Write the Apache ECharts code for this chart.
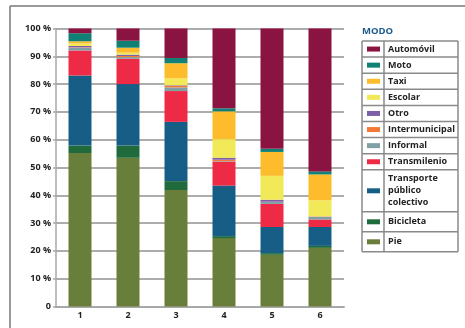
<!DOCTYPE html>
<html>
<head>
<meta charset="utf-8">
<script src="https://cdn.jsdelivr.net/npm/echarts@6/dist/echarts.min.js"></script>
<style>
  html, body { margin: 0; padding: 0; background: #fff; }
  #chart { width: 465px; height: 328px; }
</style>
</head>
<body>
<div id="chart"></div>
<script>
var categories = ['1', '2', '3', '4', '5', '6'];
var yTicks = [0, 10, 20, 30, 40, 50, 60, 70, 80, 90, 100];

// porcentaje por modo (de abajo hacia arriba en la barra)
var pie = [55.2, 53.5, 41.9, 24.6, 18.6, 21.1];
var bicicleta = [2.7, 4.4, 3.2, 0.7, 0.6, 0.7];
var tpc = [25.2, 22.1, 21.3, 18.2, 9.4, 6.8];
var transmilenio = [9.0, 9.1, 11.1, 8.6, 8.3, 2.7];
var informal = [1.0, 0.6, 1.3, 0.2, 0.7, 0.9];
var intermunicipal = [0.15, 0.4, 0.6, 0.5, 0.1, 0.1];
var otro = [0.45, 0.5, 0.2, 0.7, 0.7, 0.1];
var escolar = [0.9, 0.7, 2.5, 6.7, 8.6, 5.8];
var taxi = [0.8, 1.8, 5.4, 10.0, 8.6, 9.3];
var moto = [2.9, 2.5, 1.9, 1.1, 1.1, 1.1];
var automovil = [1.7, 4.4, 10.6, 28.7, 43.3, 51.4];

var seriesNames = ['Pie', 'Bicicleta', 'Transporte público colectivo', 'Transmilenio', 'Informal',
    'Intermunicipal', 'Otro', 'Escolar', 'Taxi', 'Moto', 'Automóvil'];
var seriesData = [pie, bicicleta, tpc, transmilenio, informal, intermunicipal, otro, escolar, taxi, moto, automovil];
var seriesColors = ['#6a7e3c', '#1f6b3c', '#175e86', '#ee2a46', '#80a0a6',
    '#f27a36', '#7d5ea8', '#f1e958', '#fdbc2b', '#118075', '#8b1341'];

// leyenda (de arriba hacia abajo)
var legendLabels = [['Automóvil'], ['Moto'], ['Taxi'], ['Escolar'], ['Otro'], ['Intermunicipal'],
    ['Informal'], ['Transmilenio'], ['Transporte', 'público', 'colectivo'], ['Bicicleta'], ['Pie']];
var legendColors = seriesColors.slice().reverse();

var font = '"Open Sans", Lato, sans-serif';
var textColor = '#222';

var myChart = echarts.init(document.getElementById('chart'));

function buildLegend() {
    var left = 362, right = 458, divider = 384;
    var rowH = [16.1, 16.1, 16.1, 16.1, 16.1, 16.1, 16.1, 16.1, 42, 20, 20];
    var elems = [];
    var y = 41;
    var lineStyle = { stroke: '#8a8a8a', lineWidth: 1.5 };
    elems.push({ type: 'line', shape: { x1: left, y1: y, x2: right, y2: y }, style: lineStyle });
    legendLabels.forEach(function (lines, i) {
        var h = rowH[i];
        var cy = y + h / 2;
        elems.push({ type: 'rect', shape: { x: 367, y: cy - 2.5, width: 13, height: 5 },
            style: { fill: legendColors[i] } });
        lines.forEach(function (txt, k) {
            elems.push({ type: 'text', x: 388, y: cy + (k - (lines.length - 1) / 2) * 12,
                style: { text: txt, font: 'bold 9px ' + font, fill: textColor, textVerticalAlign: 'middle' } });
        });
        y += h;
        elems.push({ type: 'line', shape: { x1: left, y1: y, x2: right, y2: y }, style: lineStyle });
    });
    elems.push({ type: 'line', shape: { x1: left, y1: 41, x2: left, y2: y }, style: lineStyle });
    elems.push({ type: 'line', shape: { x1: divider, y1: 41, x2: divider, y2: y }, style: lineStyle });
    elems.push({ type: 'line', shape: { x1: right, y1: 41, x2: right, y2: y }, style: lineStyle });
    elems.push({ type: 'text', x: 362, y: 31, style: { text: 'MODO', font: 'bold 9.5px ' + font,
        fill: '#1c5a8c', textVerticalAlign: 'middle' } });
    // marco exterior
    elems.push({ type: 'line', shape: { x1: 10, y1: 6, x2: 465, y2: 6 }, style: { stroke: '#777', lineWidth: 1.5 } });
    elems.push({ type: 'line', shape: { x1: 10, y1: 6, x2: 10, y2: 328 }, style: { stroke: '#777', lineWidth: 1.5 } });
    return elems;
}

var option = {
    animation: false,
    grid: { left: 56, right: 121, top: 28.5, bottom: 21.5 },
    xAxis: {
        type: 'category',
        data: categories,
        axisLine: { lineStyle: { color: '#a8a8a8', width: 2 } },
        axisTick: { show: false },
        axisLabel: { color: textColor, fontWeight: 'bold', fontSize: 9, fontFamily: font, margin: 4 }
    },
    yAxis: {
        type: 'value',
        min: yTicks[0],
        max: yTicks[yTicks.length - 1],
        interval: 10,
        axisLine: { show: true, lineStyle: { color: '#a8a8a8', width: 1.5 } },
        axisTick: { show: true, length: 3, lineStyle: { color: '#a8a8a8', width: 1.5 } },
        splitLine: { lineStyle: { color: '#acacac', width: 2 } },
        axisLabel: {
            color: textColor, fontWeight: 'bold', fontSize: 9, fontFamily: font, margin: 5,
            formatter: function (v) { return v === 0 ? '0' : v + ' %'; }
        }
    },
    series: seriesNames.map(function (name, i) {
        return {
            name: name,
            type: 'bar',
            stack: 'modo',
            barWidth: 23,
            data: seriesData[i],
            itemStyle: { color: seriesColors[i] }
        };
    }),
    graphic: buildLegend()
};

myChart.setOption(option);
</script>
</body>
</html>
